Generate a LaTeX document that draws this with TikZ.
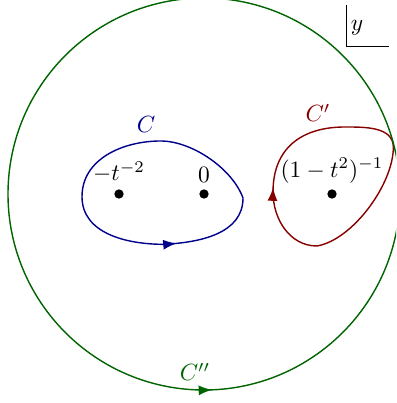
\documentclass[tikz,border=0pt]{standalone}
\definecolor{contblue}{RGB}{0,0,140}
\definecolor{contred}{RGB}{135,0,0}
\definecolor{contgreen}{RGB}{0,100,0}
\usepackage{tikz}
\usetikzlibrary{arrows.meta,decorations.markings}
\tikzset{
  contour/.style 2 args={semithick,draw=#1,
                  postaction={decorate},
                  decoration={markings,mark=at position #2 with {\arrow[#1]{Latex}}}},
  pole/.style={circle,fill=black,inner sep=0pt,minimum size=1.4mm},
  clab/.style={font=\normalsize,text=#1},
}
\begin{document}
\begin{tikzpicture}
  \useasboundingbox (-3.06,-3.135) rectangle (2.88,2.91);
  \clip (-3.06,-3.135) rectangle (2.88,2.91);
  % poles
  \node[pole,label={[yshift=-1pt]above:$-t^{-2}$}] (p1) at (-1.275,0) {};
  \node[pole,label={[yshift=-1pt]above:$0$}] (p0) at (0,0) {};
  \node[pole,label={[yshift=-1pt]above:$(1-t^2)^{-1}$}] (p2) at (1.92,0) {};
  % contour C
  \coordinate (cb) at (-0.6,-0.755);
  \coordinate (cr) at (0.585,-0.06);
  \coordinate (ct) at (-0.65,0.795);
  \coordinate (cl) at (-1.83,-0.04);
  \draw[contour={contblue}{0.03}]
    (cb) to[out=3,in=-90] (cr) to[out=110,in=0,looseness=0.8] (ct)
         to[out=180,in=90] (cl) to[out=-90,in=180] (cb) -- cycle;
  % contour C'
  \coordinate (dl) at (1.035,0.03);
  \coordinate (dt) at (2.115,1.005);
  \coordinate (dr) at (2.84,0.7);
  \coordinate (db) at (1.695,-0.78);
  \draw[contour={contred}{0.012}]
    (dl) to[out=90,in=180,looseness=1.15] (dt) to[out=0,in=90] (dr)
         to[out=-90,in=10,looseness=0.75] (db)
         to[out=180,in=-90] (dl) -- cycle;
  % contour C''
  \draw[contour={contgreen}{0.7565}] (0,0) circle (2.94);
  \node[clab=contblue] (lc) at (-0.87,1.035) {$C$};
  \node[clab=contred] (lc1) at (1.71,1.215) {$C'$};
  \node[clab=contgreen] (lc2) at (-0.135,-2.67) {$C''$};
  % variable
  \draw (2.13,2.835) |- (2.775,2.22);
  \node (var) at (2.295,2.49) {$y$};
\end{tikzpicture}
\end{document}
